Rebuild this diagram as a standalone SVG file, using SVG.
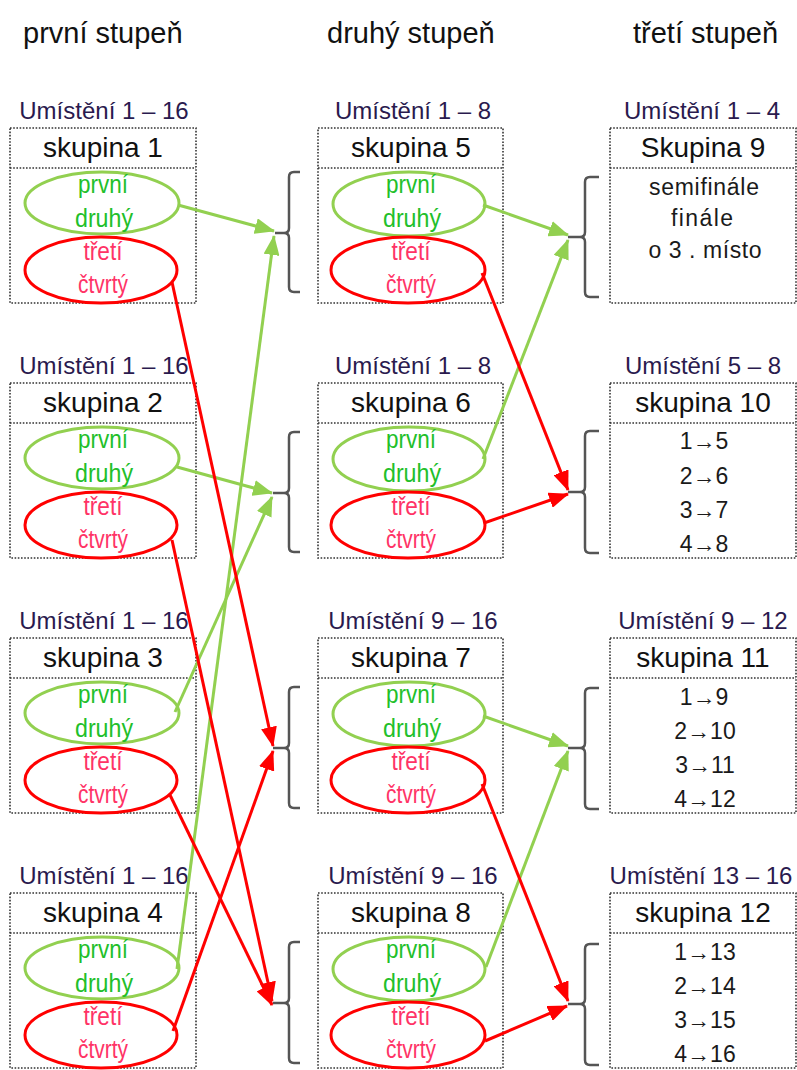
<svg xmlns="http://www.w3.org/2000/svg" width="797" height="1070" viewBox="0 0 797 1070">
<style>
text{font-family:"Liberation Sans",Arial,sans-serif}
.hd{font-size:29px;fill:#111}
.um{font-size:24px;fill:#2a1a4e;text-anchor:middle}
.sk{font-size:28px;fill:#111;text-anchor:middle}
.gt{font-size:26px;fill:#22bf2a;text-anchor:middle}
.rt{font-size:26px;fill:#ff3366;text-anchor:middle}
.ln{font-size:23px;fill:#1a1a1a;text-anchor:middle}
.box{fill:none;stroke:#333;stroke-width:1.6;stroke-dasharray:1.6 1.6}
.ge{fill:none;stroke:#92d050;stroke-width:3}
.re{fill:none;stroke:#ff0000;stroke-width:3}
.br{fill:none;stroke:#555;stroke-width:2.5}
.ga{stroke:#92d050;stroke-width:3;fill:none;marker-end:url(#ag)}
.ra{stroke:#ff0000;stroke-width:3;fill:none;marker-end:url(#ar)}
</style>
<defs>
<marker id="ag" markerUnits="userSpaceOnUse" markerWidth="20" markerHeight="16" refX="19" refY="8" orient="auto"><path d="M0,0 L20,8 L0,16 z" fill="#92d050"/></marker>
<marker id="ar" markerUnits="userSpaceOnUse" markerWidth="20" markerHeight="16" refX="19" refY="8" orient="auto"><path d="M0,0 L20,8 L0,16 z" fill="#ff0000"/></marker>
</defs>
<rect width="797" height="1070" fill="#fff"/>
<g id="headings">
<text class="hd" x="23" y="43">první stupeň</text>
<text class="hd" x="327" y="43">druhý stupeň</text>
<text class="hd" x="633" y="43">třetí stupeň</text>
</g>

<g id="skupina1">
<text class="um" x="104" y="119">Umístění 1 – 16</text>
<rect class="box" x="10" y="128" width="186" height="175"/><line class="box" x1="10" y1="168" x2="196" y2="168"/>
<text class="sk" x="103" y="157">skupina 1</text>
<ellipse class="ge" cx="102" cy="203" rx="77" ry="31"/><ellipse class="re" cx="101" cy="270" rx="76" ry="33"/>
<text class="gt" x="103" y="193" textLength="50" lengthAdjust="spacingAndGlyphs">první</text>
<text class="gt" x="104" y="227" textLength="58" lengthAdjust="spacingAndGlyphs">druhý</text>
<text class="rt" x="103" y="260" textLength="39" lengthAdjust="spacingAndGlyphs">třetí</text>
<text class="rt" x="103" y="293" textLength="50" lengthAdjust="spacingAndGlyphs">čtvrtý</text>
</g>
<g id="skupina2">
<text class="um" x="104" y="374">Umístění 1 – 16</text>
<rect class="box" x="10" y="383" width="186" height="175"/><line class="box" x1="10" y1="423" x2="196" y2="423"/>
<text class="sk" x="103" y="412">skupina 2</text>
<ellipse class="ge" cx="102" cy="458" rx="77" ry="31"/><ellipse class="re" cx="101" cy="525" rx="76" ry="33"/>
<text class="gt" x="103" y="448" textLength="50" lengthAdjust="spacingAndGlyphs">první</text>
<text class="gt" x="104" y="482" textLength="58" lengthAdjust="spacingAndGlyphs">druhý</text>
<text class="rt" x="103" y="515" textLength="39" lengthAdjust="spacingAndGlyphs">třetí</text>
<text class="rt" x="103" y="548" textLength="50" lengthAdjust="spacingAndGlyphs">čtvrtý</text>
</g>
<g id="skupina3">
<text class="um" x="104" y="629">Umístění 1 – 16</text>
<rect class="box" x="10" y="638" width="186" height="175"/><line class="box" x1="10" y1="678" x2="196" y2="678"/>
<text class="sk" x="103" y="667">skupina 3</text>
<ellipse class="ge" cx="102" cy="713" rx="77" ry="31"/><ellipse class="re" cx="101" cy="780" rx="76" ry="33"/>
<text class="gt" x="103" y="703" textLength="50" lengthAdjust="spacingAndGlyphs">první</text>
<text class="gt" x="104" y="737" textLength="58" lengthAdjust="spacingAndGlyphs">druhý</text>
<text class="rt" x="103" y="770" textLength="39" lengthAdjust="spacingAndGlyphs">třetí</text>
<text class="rt" x="103" y="803" textLength="50" lengthAdjust="spacingAndGlyphs">čtvrtý</text>
</g>
<g id="skupina4">
<text class="um" x="104" y="884">Umístění 1 – 16</text>
<rect class="box" x="10" y="893" width="186" height="175"/><line class="box" x1="10" y1="933" x2="196" y2="933"/>
<text class="sk" x="103" y="922">skupina 4</text>
<ellipse class="ge" cx="102" cy="968" rx="77" ry="31"/><ellipse class="re" cx="101" cy="1035" rx="76" ry="33"/>
<text class="gt" x="103" y="958" textLength="50" lengthAdjust="spacingAndGlyphs">první</text>
<text class="gt" x="104" y="992" textLength="58" lengthAdjust="spacingAndGlyphs">druhý</text>
<text class="rt" x="103" y="1025" textLength="39" lengthAdjust="spacingAndGlyphs">třetí</text>
<text class="rt" x="103" y="1058" textLength="50" lengthAdjust="spacingAndGlyphs">čtvrtý</text>
</g>

<g id="skupina5">
<text class="um" x="413" y="119">Umístění 1 – 8</text>
<rect class="box" x="318" y="128" width="185" height="175"/><line class="box" x1="318" y1="168" x2="503" y2="168"/>
<text class="sk" x="411" y="157">skupina 5</text>
<ellipse class="ge" cx="409" cy="204" rx="76" ry="32"/><ellipse class="re" cx="408" cy="270" rx="77" ry="33"/>
<text class="gt" x="411" y="193" textLength="50" lengthAdjust="spacingAndGlyphs">první</text>
<text class="gt" x="412" y="227" textLength="58" lengthAdjust="spacingAndGlyphs">druhý</text>
<text class="rt" x="411" y="260" textLength="39" lengthAdjust="spacingAndGlyphs">třetí</text>
<text class="rt" x="411" y="293" textLength="50" lengthAdjust="spacingAndGlyphs">čtvrtý</text>
</g>
<g id="skupina6">
<text class="um" x="413" y="374">Umístění 1 – 8</text>
<rect class="box" x="318" y="383" width="185" height="175"/><line class="box" x1="318" y1="423" x2="503" y2="423"/>
<text class="sk" x="411" y="412">skupina 6</text>
<ellipse class="ge" cx="409" cy="459" rx="76" ry="32"/><ellipse class="re" cx="408" cy="525" rx="77" ry="33"/>
<text class="gt" x="411" y="448" textLength="50" lengthAdjust="spacingAndGlyphs">první</text>
<text class="gt" x="412" y="482" textLength="58" lengthAdjust="spacingAndGlyphs">druhý</text>
<text class="rt" x="411" y="515" textLength="39" lengthAdjust="spacingAndGlyphs">třetí</text>
<text class="rt" x="411" y="548" textLength="50" lengthAdjust="spacingAndGlyphs">čtvrtý</text>
</g>
<g id="skupina7">
<text class="um" x="413" y="629">Umístění 9 – 16</text>
<rect class="box" x="318" y="638" width="185" height="175"/><line class="box" x1="318" y1="678" x2="503" y2="678"/>
<text class="sk" x="411" y="667">skupina 7</text>
<ellipse class="ge" cx="409" cy="714" rx="76" ry="32"/><ellipse class="re" cx="408" cy="780" rx="77" ry="33"/>
<text class="gt" x="411" y="703" textLength="50" lengthAdjust="spacingAndGlyphs">první</text>
<text class="gt" x="412" y="737" textLength="58" lengthAdjust="spacingAndGlyphs">druhý</text>
<text class="rt" x="411" y="770" textLength="39" lengthAdjust="spacingAndGlyphs">třetí</text>
<text class="rt" x="411" y="803" textLength="50" lengthAdjust="spacingAndGlyphs">čtvrtý</text>
</g>
<g id="skupina8">
<text class="um" x="413" y="884">Umístění 9 – 16</text>
<rect class="box" x="318" y="893" width="185" height="175"/><line class="box" x1="318" y1="933" x2="503" y2="933"/>
<text class="sk" x="411" y="922">skupina 8</text>
<ellipse class="ge" cx="409" cy="969" rx="76" ry="32"/><ellipse class="re" cx="408" cy="1035" rx="77" ry="33"/>
<text class="gt" x="411" y="958" textLength="50" lengthAdjust="spacingAndGlyphs">první</text>
<text class="gt" x="412" y="992" textLength="58" lengthAdjust="spacingAndGlyphs">druhý</text>
<text class="rt" x="411" y="1025" textLength="39" lengthAdjust="spacingAndGlyphs">třetí</text>
<text class="rt" x="411" y="1058" textLength="50" lengthAdjust="spacingAndGlyphs">čtvrtý</text>
</g>

<g id="skupina9">
<text class="um" x="702" y="119">Umístění 1 – 4</text>
<rect class="box" x="610" y="128" width="186" height="175"/><line class="box" x1="610" y1="168" x2="796" y2="168"/>
<text class="sk" x="703" y="157">Skupina 9</text>
<text class="ln" x="704" y="195" textLength="110" lengthAdjust="spacing">semifinále</text>
<text class="ln" x="702" y="226" textLength="62" lengthAdjust="spacing">finále</text>
<text class="ln" x="705" y="258" textLength="113" lengthAdjust="spacing">o 3 . místo</text>
</g>
<g id="skupina10">
<text class="um" x="703" y="374">Umístění 5 – 8</text>
<rect class="box" x="610" y="383" width="186" height="175"/><line class="box" x1="610" y1="423" x2="796" y2="423"/>
<text class="sk" x="703" y="412">skupina 10</text>
<text class="ln" x="704" y="449">1→5</text>
<text class="ln" x="704" y="484">2→6</text>
<text class="ln" x="704" y="518">3→7</text>
<text class="ln" x="704" y="552">4→8</text>
</g>
<g id="skupina11">
<text class="um" x="703" y="629">Umístění 9 – 12</text>
<rect class="box" x="610" y="638" width="186" height="175"/><line class="box" x1="610" y1="678" x2="796" y2="678"/>
<text class="sk" x="703" y="667">skupina 11</text>
<text class="ln" x="704" y="705">1→9</text>
<text class="ln" x="705" y="739">2→10</text>
<text class="ln" x="705" y="773">3→11</text>
<text class="ln" x="705" y="807">4→12</text>
</g>
<g id="skupina12">
<text class="um" x="701" y="884">Umístění 13 – 16</text>
<rect class="box" x="610" y="893" width="186" height="175"/><line class="box" x1="610" y1="933" x2="796" y2="933"/>
<text class="sk" x="703" y="922">skupina 12</text>
<text class="ln" x="705" y="960">1→13</text>
<text class="ln" x="705" y="994">2→14</text>
<text class="ln" x="705" y="1028">3→15</text>
<text class="ln" x="705" y="1062">4→16</text>
</g>

<g id="brackets">
<path class="br" d="M300,172 H294 Q289,172 289,177 V228 Q289,233 284,233 H275 M284,233 Q289,233 289,238 V287 Q289,292 294,292 H300"/>
<path class="br" d="M300,432 H294 Q289,432 289,437 V488 Q289,493 284,493 H273 M284,493 Q289,493 289,498 V547 Q289,552 294,552 H300"/>
<path class="br" d="M300,687 H294 Q289,687 289,692 V743 Q289,748 284,748 H273 M284,748 Q289,748 289,753 V803 Q289,808 294,808 H300"/>
<path class="br" d="M300,942 H294 Q289,942 289,947 V998 Q289,1003 284,1003 H273 M284,1003 Q289,1003 289,1008 V1058 Q289,1063 294,1063 H300"/>
<path class="br" d="M599,177 H590 Q585,177 585,182 V232 Q585,237 580,237 H568 M580,237 Q585,237 585,242 V292 Q585,297 590,297 H599"/>
<path class="br" d="M599,431 H590 Q585,431 585,436 V487 Q585,492 580,492 H568 M580,492 Q585,492 585,497 V548 Q585,553 590,553 H599"/>
<path class="br" d="M599,688 H590 Q585,688 585,693 V743 Q585,748 580,748 H568 M580,748 Q585,748 585,753 V804 Q585,809 590,809 H599"/>
<path class="br" d="M599,944 H590 Q585,944 585,949 V999 Q585,1004 580,1004 H568 M580,1004 Q585,1004 585,1009 V1060 Q585,1065 590,1065 H599"/>
</g>

<g id="connectors">
<line class="ga" x1="178" y1="205" x2="274" y2="231"/>
<line class="ga" x1="177" y1="467" x2="272" y2="493"/>
<line class="ga" x1="175" y1="712" x2="272" y2="497"/>
<line class="ga" x1="177" y1="969" x2="274" y2="236"/>
<line class="ra" x1="172" y1="282" x2="273" y2="746"/>
<line class="ra" x1="172" y1="540" x2="272" y2="1001"/>
<line class="ra" x1="170" y1="795" x2="272" y2="1005"/>
<line class="ra" x1="173" y1="1031" x2="273" y2="751"/>
<line class="ga" x1="483" y1="205" x2="568" y2="235"/>
<line class="ga" x1="483" y1="459" x2="568" y2="240"/>
<line class="ga" x1="483" y1="716" x2="568" y2="746"/>
<line class="ga" x1="486" y1="967" x2="568" y2="751"/>
<line class="ra" x1="482" y1="273" x2="568" y2="490"/>
<line class="ra" x1="484" y1="523" x2="568" y2="494"/>
<line class="ra" x1="482" y1="784" x2="568" y2="1001"/>
<line class="ra" x1="485" y1="1041" x2="567" y2="1006"/>
</g>
</svg>
